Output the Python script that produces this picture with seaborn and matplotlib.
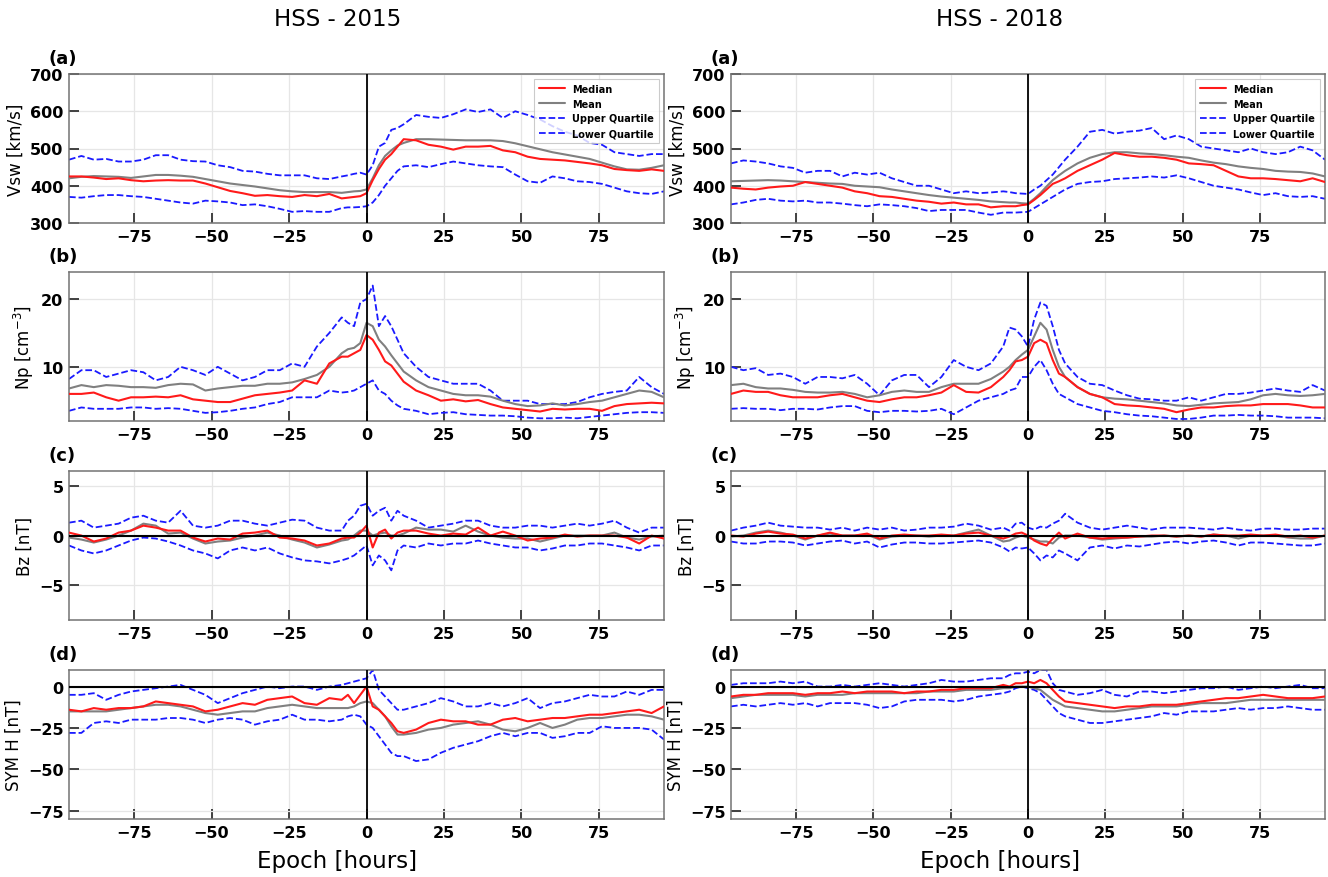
import numpy as np
import pandas as pd
import matplotlib
matplotlib.use("Agg")
import matplotlib.pyplot as plt
import seaborn as sns

# ---------------- data ----------------
EPOCH = [-96, -92, -88, -84, -80, -76, -72, -68, -64, -60, -56, -52, -48, -44, -40, -36, -32, -28, -24, -20, -16, -12, -8,
         -6, -4, -2, 0, 2, 4, 6, 8, 10, 12,
         16, 20, 24, 28, 32, 36, 40, 44, 48, 52, 56, 60, 64, 68, 72, 76, 80, 84, 88, 92, 96]

COLUMN_TITLES = ["HSS - 2015", "HSS - 2018"]
ROW_LETTERS = ["(a)", "(b)", "(c)", "(d)"]
ROW_LABELS = ["Vsw [km/s]", "Np [cm$^{-3}$]", "Bz [nT]", "SYM H [nT]"]
SERIES_NAMES = ["Median", "Mean", "Upper Quartile", "Lower Quartile"]
XTICKS = [-75, -50, -25, 0, 25, 50, 75]

# Vsw 2015
vsw15_med = [425, 425, 422, 418, 420, 415, 412, 414, 415, 414, 414, 406, 396, 386, 380, 373, 375, 372, 370, 375, 372, 378, 366,
             368, 370, 372, 380, 415, 445, 470, 485, 505, 525,
             522, 510, 505, 497, 505, 505, 507, 495, 490, 478, 472, 470, 468, 464, 460, 455, 445, 442, 440, 444, 440]
vsw15_mean = [420, 424, 426, 425, 424, 421, 425, 429, 429, 427, 424, 418, 412, 406, 402, 398, 393, 388, 385, 383, 383, 383, 381,
              383, 385, 386, 390, 420, 455, 480, 495, 508, 515,
              525, 525, 524, 523, 522, 522, 522, 520, 514, 506, 498, 490, 484, 478, 472, 462, 452, 444, 443, 448, 455]
vsw15_up = [470, 480, 470, 472, 465, 465, 470, 482, 482, 470, 466, 465, 455, 450, 440, 438, 432, 428, 428, 428, 420, 418, 425,
            428, 432, 435, 430, 455, 505, 515, 550, 555, 565,
            590, 585, 582, 592, 605, 598, 605, 582, 600, 590, 578, 560, 545, 535, 515, 510, 490, 485, 480, 485, 485]
vsw15_lo = [370, 368, 372, 375, 375, 372, 370, 365, 360, 355, 352, 360, 358, 355, 348, 350, 345, 338, 330, 332, 330, 330, 340,
            342, 342, 343, 345, 355, 375, 400, 420, 440, 452,
            455, 450, 458, 465, 460, 455, 452, 450, 430, 412, 408, 425, 420, 412, 410, 405, 395, 385, 380, 378, 385]

# Vsw 2018
vsw18_med = [395, 392, 390, 395, 398, 400, 410, 405, 400, 395, 385, 380, 372, 370, 365, 360, 357, 352, 355, 350, 350, 342, 345,
             345, 345, 348, 350, 362, 375, 390, 405, 412, 420,
             440, 455, 470, 488, 482, 478, 478, 475, 470, 460, 458, 455, 440, 425, 420, 420, 418, 415, 412, 420, 410]
vsw18_mean = [412, 413, 414, 415, 414, 412, 410, 408, 406, 405, 400, 398, 396, 390, 385, 380, 375, 371, 368, 365, 362, 358, 356,
              355, 355, 353, 352, 365, 380, 398, 415, 428, 440,
              460, 475, 485, 490, 490, 487, 485, 482, 478, 475, 468, 462, 458, 452, 448, 445, 440, 438, 437, 433, 425]
vsw18_up = [460, 468, 465, 460, 452, 448, 435, 440, 440, 425, 435, 430, 435, 420, 410, 400, 400, 390, 380, 385, 380, 382, 385,
            383, 380, 379, 378, 390, 400, 415, 430, 450, 470,
            505, 545, 550, 540, 545, 548, 555, 525, 535, 525, 505, 500, 495, 490, 500, 490, 485, 490, 505, 495, 470]
vsw18_lo = [350, 355, 362, 365, 360, 358, 360, 355, 355, 352, 348, 345, 350, 348, 345, 340, 332, 335, 335, 335, 328, 322, 328,
            328, 328, 329, 330, 340, 350, 360, 370, 380, 390,
            405, 410, 412, 418, 420, 422, 425, 422, 428, 420, 410, 400, 395, 390, 382, 375, 380, 372, 370, 372, 365]

# Np 2015
np15_med = [6.0, 6.0, 6.2, 5.5, 5.0, 5.5, 5.5, 5.6, 5.5, 5.8, 5.2, 5.0, 4.8, 4.8, 5.3, 5.8, 6.0, 6.2, 6.5, 8.0, 7.5, 10.5, 11.5,
            11.5, 12.0, 12.5, 14.7, 14.0, 12.5, 10.8, 10.2, 9.0, 7.8,
            6.5, 5.8, 5.0, 5.2, 4.9, 5.1, 4.5, 4.0, 3.8, 3.6, 3.4, 3.8, 3.7, 3.8, 3.8, 3.5, 4.2, 4.5, 4.6, 4.7, 4.6]
np15_mean = [6.8, 7.3, 7.0, 7.3, 7.2, 7.0, 7.0, 6.9, 7.3, 7.5, 7.4, 6.5, 6.8, 7.0, 7.2, 7.2, 7.5, 7.5, 7.7, 8.2, 8.8, 10.0, 12.0,
             12.6, 12.8, 13.5, 16.5, 16.0, 14.0, 13.0, 11.7, 10.5, 9.3,
             8.0, 7.0, 6.5, 6.0, 5.8, 5.8, 5.6, 5.0, 4.5, 4.2, 4.3, 4.6, 4.3, 4.5, 4.8, 5.0, 5.5, 6.0, 6.5, 6.3, 5.5]
np15_up = [8.2, 9.5, 9.5, 8.5, 9.0, 9.5, 9.2, 8.0, 8.5, 10.0, 9.5, 8.8, 10.0, 9.0, 8.0, 8.5, 9.5, 9.5, 10.5, 10.0, 13.0, 15.0, 17.3,
           16.5, 16.0, 19.5, 20.0, 22.0, 16.0, 17.5, 16.0, 14.0, 12.0,
           10.0, 8.5, 8.0, 7.5, 7.5, 7.5, 6.5, 5.0, 5.0, 5.0, 4.5, 4.5, 4.5, 4.8, 5.5, 6.0, 6.3, 6.5, 8.5, 7.0, 6.0]
np15_lo = [3.5, 4.0, 3.8, 3.8, 3.8, 4.0, 4.0, 3.8, 3.9, 3.8, 3.5, 3.2, 3.3, 3.5, 3.8, 4.0, 4.5, 4.8, 5.5, 5.5, 5.5, 6.5, 6.2,
           6.3, 6.5, 7.0, 7.5, 8.0, 6.5, 6.0, 5.0, 4.3, 3.8,
           3.5, 3.0, 3.2, 3.3, 3.0, 2.9, 2.8, 2.8, 2.7, 2.5, 2.4, 2.4, 2.5, 2.4, 2.6, 2.8, 3.0, 3.2, 3.3, 3.3, 3.2]

# Np 2018
np18_med = [6.0, 6.5, 6.3, 6.3, 5.8, 5.5, 5.5, 5.5, 5.8, 6.0, 5.5, 5.0, 4.8, 5.2, 5.5, 5.5, 5.8, 6.2, 7.3, 6.3, 6.2, 7.0, 8.5,
            9.5, 10.8, 11.0, 11.5, 13.5, 14.0, 13.5, 11.0, 9.0, 8.5,
            7.0, 6.0, 5.5, 4.5, 4.3, 4.2, 4.0, 3.8, 3.3, 3.7, 4.0, 4.0, 4.2, 4.3, 4.3, 4.5, 4.5, 4.5, 4.3, 4.0, 4.0]
np18_mean = [7.3, 7.5, 7.0, 6.8, 6.8, 6.6, 6.3, 6.2, 6.2, 6.3, 6.0, 5.5, 5.8, 6.3, 6.5, 6.3, 6.3, 7.0, 7.5, 7.5, 7.5, 8.2, 9.3,
             10.0, 11.0, 11.8, 12.5, 14.5, 16.5, 15.5, 12.5, 10.0, 8.5,
             7.0, 6.0, 5.5, 5.3, 5.2, 5.0, 4.8, 4.6, 4.3, 4.2, 4.4, 4.6, 4.7, 4.8, 5.2, 5.8, 6.0, 5.8, 5.7, 5.8, 6.0]
np18_up = [10.0, 9.5, 9.8, 8.8, 9.0, 8.5, 7.5, 8.5, 8.5, 8.3, 8.8, 7.5, 5.8, 8.0, 8.8, 8.8, 7.0, 8.5, 11.0, 10.0, 9.5, 10.5, 13.0,
           15.8, 15.5, 14.5, 13.0, 17.0, 19.5, 19.0, 16.0, 12.5, 10.5,
           8.5, 7.5, 7.3, 6.5, 5.8, 5.3, 5.2, 5.0, 5.0, 5.5, 5.0, 5.5, 6.0, 6.0, 6.2, 6.5, 6.8, 6.5, 6.3, 7.3, 6.5]
np18_lo = [3.8, 3.9, 3.8, 3.8, 3.6, 3.8, 3.8, 3.7, 4.0, 4.2, 4.2, 3.5, 3.3, 3.5, 3.5, 3.4, 3.5, 3.8, 3.0, 4.0, 5.0, 5.5, 6.0,
           6.5, 6.8, 8.5, 8.5, 10.0, 11.0, 9.5, 7.5, 6.0, 5.5,
           4.5, 4.0, 3.5, 3.3, 3.0, 2.8, 2.7, 2.5, 2.3, 2.3, 2.5, 2.8, 2.8, 2.9, 2.8, 2.8, 2.7, 2.5, 2.5, 2.5, 2.4]

# Bz 2015
bz15_med = [0.3, 0.0, -0.6, -0.3, 0.3, 0.5, 1.0, 0.8, 0.5, 0.5, -0.2, -0.6, -0.3, -0.4, 0.2, 0.3, 0.5, -0.2, -0.3, -0.5, -1.0, -0.8, -0.3,
            -0.2, -0.2, 0.3, 1.0, -1.2, 0.3, 0.6, -0.3, 0.3, 0.5,
            0.5, 0.2, 0.0, 0.2, 0.1, 0.8, 0.0, 0.4, 0.0, -0.5, -0.3, -0.2, 0.1, -0.1, 0.0, 0.0, 0.0, -0.2, -0.8, 0.0, -0.3]
bz15_mean = [-0.2, -0.4, -0.7, -0.4, 0.0, 0.5, 1.2, 1.0, 0.2, 0.3, -0.3, -0.8, -0.6, -0.5, -0.2, 0.0, 0.3, 0.0, -0.4, -0.7, -1.2, -0.9, -0.5,
             -0.4, 0.0, 0.5, 0.5, 0.0, 0.2, 0.3, 0.0, 0.0, 0.2,
             0.8, 0.6, 0.6, 0.4, 1.0, 0.4, 0.0, -0.2, -0.3, -0.3, -0.6, -0.3, 0.0, 0.0, 0.0, 0.0, 0.3, -0.2, -0.4, -0.1, 0.0]
bz15_up = [1.3, 1.5, 0.8, 1.0, 1.2, 1.8, 2.0, 1.5, 1.3, 2.5, 1.0, 0.8, 1.0, 1.5, 1.5, 1.2, 1.0, 1.3, 1.6, 1.5, 0.8, 0.5, 0.5,
           1.5, 2.0, 3.0, 3.2, 2.0, 2.5, 2.8, 1.5, 2.5, 2.0,
           1.5, 0.8, 1.0, 1.2, 1.5, 1.5, 1.0, 0.8, 0.8, 1.0, 1.0, 0.8, 1.0, 1.2, 1.0, 1.2, 1.5, 0.8, 0.3, 0.8, 0.8]
bz15_lo = [-1.0, -1.5, -1.8, -1.5, -1.0, -0.5, -0.2, -0.3, -0.6, -1.0, -1.5, -1.8, -2.3, -1.5, -1.2, -1.5, -1.2, -1.8, -2.2, -2.5, -2.6, -2.8, -2.5,
           -2.3, -2.0, -1.5, -1.0, -3.0, -2.0, -2.5, -3.5, -1.5, -1.0,
           -1.2, -0.8, -1.0, -0.8, -0.8, -0.5, -0.8, -1.0, -1.2, -1.2, -1.5, -1.3, -1.0, -1.0, -0.8, -0.8, -1.0, -1.2, -1.5, -1.0, -1.0]

# Bz 2018
bz18_med = [0.0, -0.1, 0.2, 0.4, 0.2, 0.1, -0.3, 0.0, 0.3, 0.0, 0.0, 0.2, -0.3, 0.0, 0.1, 0.0, 0.0, 0.1, 0.0, 0.2, 0.3, 0.0, -0.3,
            -0.1, 0.2, 0.3, 0.0, -0.5, -0.8, -1.0, -0.3, 0.3, -0.3,
            0.2, -0.2, -0.3, -0.2, -0.2, -0.1, 0.0, 0.0, -0.1, 0.0, -0.1, 0.1, 0.0, 0.0, 0.1, 0.0, 0.1, -0.1, 0.0, -0.2, 0.0]
bz18_mean = [-0.1, 0.0, 0.3, 0.5, 0.3, 0.0, -0.4, 0.0, 0.2, 0.0, 0.0, 0.1, -0.4, -0.1, 0.0, 0.0, -0.1, 0.0, 0.0, 0.3, 0.6, 0.0, -0.6,
             -0.5, -0.2, 0.0, -0.2, -0.4, -0.6, -0.6, -0.8, -0.2, 0.0,
             0.0, -0.2, -0.4, -0.3, -0.2, -0.1, -0.1, 0.0, -0.1, 0.0, -0.1, 0.1, 0.0, -0.3, 0.0, 0.0, 0.0, -0.2, -0.3, -0.3, 0.0]
bz18_up = [0.5, 0.8, 1.0, 1.3, 1.0, 0.9, 0.8, 0.8, 0.6, 0.8, 0.5, 0.8, 0.6, 0.8, 0.5, 0.6, 0.8, 0.8, 0.9, 1.2, 1.0, 0.6, 0.8,
           0.5, 1.2, 1.3, 0.8, 0.6, 0.9, 0.8, 1.2, 1.5, 2.2,
           1.3, 0.8, 0.6, 0.8, 1.0, 0.8, 0.6, 0.8, 0.8, 0.8, 0.7, 0.6, 0.8, 0.6, 0.5, 0.7, 0.7, 0.6, 0.6, 0.7, 0.7]
bz18_lo = [-0.6, -0.8, -0.8, -0.6, -0.6, -0.7, -1.0, -0.8, -0.6, -0.5, -0.8, -0.6, -1.2, -0.9, -0.7, -0.7, -0.8, -0.8, -0.7, -0.6, -0.5, -0.7, -1.2,
           -1.6, -1.2, -1.3, -1.2, -1.8, -2.5, -2.0, -2.2, -1.5, -1.8,
           -2.5, -1.2, -1.0, -1.3, -1.0, -1.1, -0.9, -0.7, -0.6, -0.8, -0.6, -0.5, -0.7, -1.0, -0.7, -0.7, -0.8, -0.9, -1.0, -1.0, -0.8]

# SYM-H 2015
symh15_med = [-14, -15, -13, -14, -13, -13, -12, -9, -10, -11, -12, -15, -14, -12, -10, -11, -8, -7, -6, -10, -11, -7, -8,
              -5, -10, -5, 0, -12, -14, -18, -22, -27, -28,
              -26, -22, -20, -21, -21, -23, -23, -20, -19, -21, -20, -19, -19, -18, -17, -17, -16, -15, -14, -16, -12]
symh15_mean = [-15, -15, -15, -15, -14, -13, -12, -11, -11, -12, -14, -16, -17, -16, -15, -15, -13, -12, -11, -12, -13, -13, -13,
               -13, -12, -10, -9, -10, -14, -18, -24, -29, -29,
               -28, -26, -25, -23, -22, -21, -23, -26, -27, -25, -22, -25, -23, -20, -19, -19, -18, -17, -17, -18, -20]
symh15_up = [-5, -5, -4, -8, -5, -3, -2, -1, 0, 1, -2, -5, -10, -7, -4, -2, 0, -1, 0, 0, -2, 0, 1,
             2, 3, 4, 5, 10, -2, -6, -10, -14, -14,
             -12, -10, -7, -9, -12, -12, -10, -12, -10, -7, -13, -10, -9, -7, -5, -6, -6, -3, -5, -2, -2]
symh15_lo = [-28, -28, -22, -21, -22, -20, -20, -20, -19, -19, -20, -22, -20, -19, -20, -23, -21, -20, -17, -20, -20, -21, -20,
             -18, -17, -18, -23, -25, -30, -35, -40, -42, -42,
             -45, -44, -40, -37, -35, -33, -30, -28, -30, -28, -28, -31, -30, -28, -28, -24, -25, -25, -25, -26, -32]

# SYM-H 2018
symh18_med = [-6, -5, -5, -4, -4, -4, -5, -4, -4, -3, -4, -3, -3, -3, -4, -3, -3, -2, -2, -1, -1, -1, 1,
              0, 2, 2, 3, 2, 4, 2, -2, -6, -9,
              -10, -11, -12, -13, -12, -12, -11, -11, -11, -10, -9, -8, -7, -7, -6, -5, -6, -7, -7, -7, -6]
symh18_mean = [-7, -6, -5, -5, -5, -5, -6, -5, -5, -5, -4, -4, -4, -4, -4, -4, -3, -3, -3, -2, -2, -2, -1,
               -1, 0, 0, 0, -1, -2, -5, -8, -10, -12,
               -13, -14, -15, -15, -14, -13, -12, -12, -12, -11, -10, -10, -10, -9, -8, -8, -8, -8, -8, -8, -8]
symh18_up = [1, 2, 2, 2, 3, 2, 3, 0, 0, 1, 0, 1, 2, 1, 0, 1, 2, 4, 3, 3, 4, 5, 5,
             7, 8, 8, 9, 8, 10, 10, 2, -2, -3,
             -5, -4, -2, -5, -6, -3, -3, -4, -3, -2, -1, -1, 0, -2, -1, 0, -1, 0, 1, -1, -1]
symh18_lo = [-12, -11, -12, -11, -10, -11, -10, -12, -10, -10, -10, -11, -13, -12, -9, -8, -8, -8, -9, -8, -6, -5, -4,
             -3, -1, 0, -1, -2, -4, -8, -12, -16, -18,
             -20, -22, -22, -21, -20, -19, -18, -16, -17, -15, -15, -15, -14, -13, -14, -13, -13, -12, -13, -14, -14]

# ---------------- styling ----------------
sns.set_theme(style="whitegrid")
plt.rcParams["font.family"] = ["DejaVu Sans"]
plt.rcParams["axes.edgecolor"] = "0.45"
plt.rcParams["axes.linewidth"] = 1.1
plt.rcParams["grid.color"] = "0.9"
plt.rcParams["grid.linewidth"] = 0.9
plt.rcParams["text.color"] = "black"
plt.rcParams["axes.labelcolor"] = "black"
plt.rcParams["xtick.color"] = "black"
plt.rcParams["ytick.color"] = "black"

ROWS = [
    dict(data=[(vsw15_med, vsw15_mean, vsw15_up, vsw15_lo), (vsw18_med, vsw18_mean, vsw18_up, vsw18_lo)],
         ylim=(300, 700), yticks=[300, 400, 500, 600, 700], hline=False),
    dict(data=[(np15_med, np15_mean, np15_up, np15_lo), (np18_med, np18_mean, np18_up, np18_lo)],
         ylim=(2.0, 24.0), yticks=[10, 20], hline=False),
    dict(data=[(bz15_med, bz15_mean, bz15_up, bz15_lo), (bz18_med, bz18_mean, bz18_up, bz18_lo)],
         ylim=(-8.5, 6.5), yticks=[-5, 0, 5], hline=True),
    dict(data=[(symh15_med, symh15_mean, symh15_up, symh15_lo), (symh18_med, symh18_mean, symh18_up, symh18_lo)],
         ylim=(-80, 10), yticks=[-75, -50, -25, 0], hline=True),
]

W, H = 1328, 878
fig = plt.figure(figsize=(W / 100, H / 100), dpi=100)

col_left = [69 / W, 731 / W]
col_width = [595 / W, 594 / W]
row_top_px = [75, 273, 472, 671]
row_h_px = 149

styles = [
    dict(color="#ff1a1a", linestyle="-", linewidth=1.5, zorder=4),
    dict(color="0.5", linestyle="-", linewidth=1.5, zorder=3),
    dict(color="#1a1aff", linestyle="--", linewidth=1.3, zorder=2),
    dict(color="#1a1aff", linestyle="--", linewidth=1.3, zorder=2),
]

for r, row in enumerate(ROWS):
    for c in range(2):
        bottom = 1 - (row_top_px[r] + row_h_px) / H
        ax = fig.add_axes([col_left[c], bottom, col_width[c], row_h_px / H])
        series = row["data"][c]
        for name, vals, st in zip(SERIES_NAMES, series, styles):
            sns.lineplot(x=EPOCH, y=vals, ax=ax, label=name, estimator=None,
                         errorbar=None, legend=False, **st)
        ax.axvline(0, color="black", linewidth=1.3, zorder=5)
        if row["hline"]:
            ax.axhline(0, color="black", linewidth=1.5, zorder=5)
        ax.set_xlim(-96, 96)
        ax.set_ylim(*row["ylim"])
        ax.set_xticks(XTICKS)
        ax.set_yticks(row["yticks"])
        ax.tick_params(direction="in", length=7, width=1.4, color="0.25",
                       labelcolor="black", labelsize=11.5, pad=4,
                       bottom=True, left=True, top=False, right=False)
        plt.setp(ax.get_xticklabels(), fontweight="bold")
        plt.setp(ax.get_yticklabels(), fontweight="bold")
        ax.set_ylabel(ROW_LABELS[r], fontsize=12, color="black")
        ax.set_xlabel("")
        ax.grid(True)
        ax.text(-0.034, 1.05, ROW_LETTERS[r], transform=ax.transAxes,
                fontsize=13, fontweight="bold", ha="left", va="bottom", color="black")
        if r == 0:
            leg = ax.legend(loc="upper right", prop={"weight": "bold", "size": 7},
                            frameon=True, handlelength=2.6, borderpad=0.5,
                            labelspacing=0.5, fancybox=False)
            leg.get_frame().set_edgecolor("0.75")
            leg.get_frame().set_linewidth(0.8)
            for t in leg.get_texts():
                t.set_color("black")

for c, title in enumerate(COLUMN_TITLES):
    xc = 0.254 if c == 0 else 0.753
    fig.text(xc, 1 - 20 / H, title, ha="center", va="center", fontsize=16.5, color="black")
    fig.text(xc, 1 - 862 / H, "Epoch [hours]", ha="center", va="center", fontsize=16.5, color="black")

fig.savefig("out.png", dpi=100)
